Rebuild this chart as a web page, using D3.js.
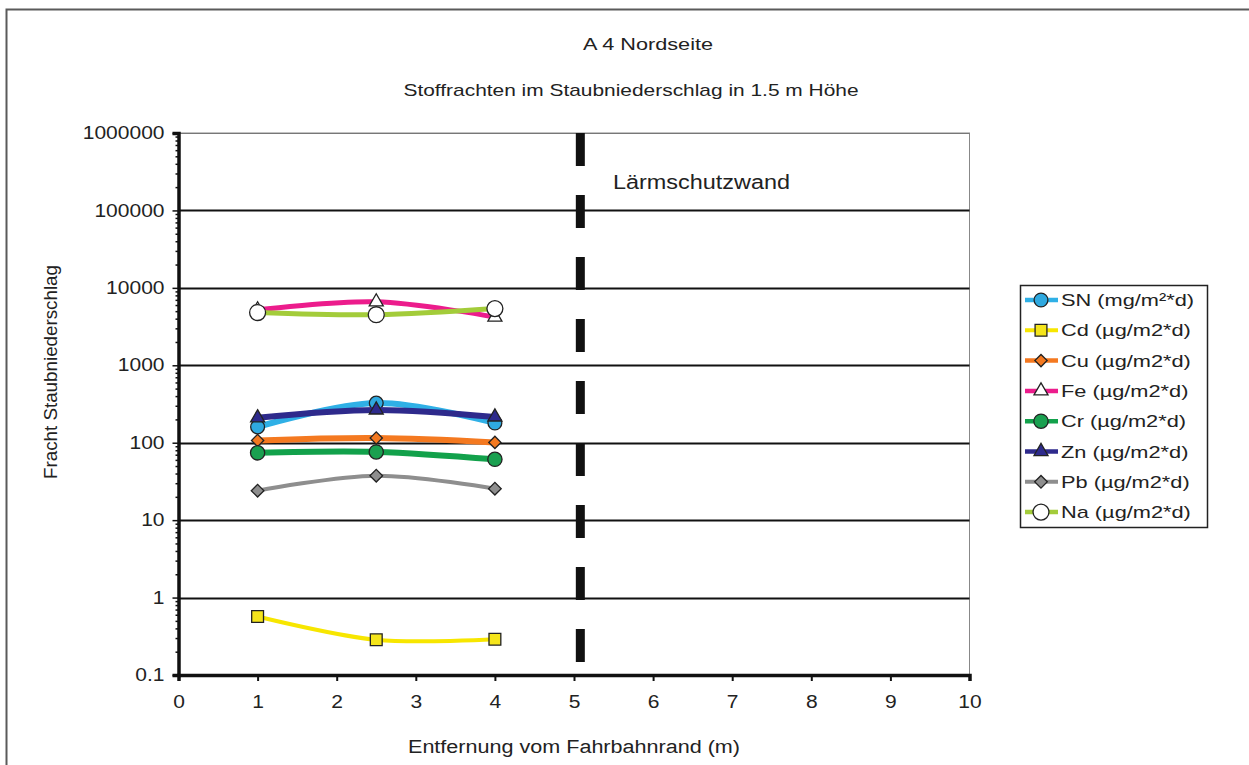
<!DOCTYPE html>
<html>
<head>
<meta charset="utf-8">
<script src="https://cdn.jsdelivr.net/npm/d3@7"></script>
<style>
  body { margin: 0; background: #fff; }
  svg { display: block; font-family: "Liberation Sans", Arial, sans-serif; }
</style>
</head>
<body>
<div id="chart"></div>
<script>
// distances from the road edge (m)
var distances = [1, 2.5, 4];

// series values
var seriesNames = ["SN (mg/m²*d)", "Cd (µg/m2*d)", "Cu (µg/m2*d)", "Fe (µg/m2*d)",
  "Cr (µg/m2*d)", "Zn (µg/m2*d)", "Pb (µg/m2*d)", "Na (µg/m2*d)"];
var snValues = [160, 325, 180];
var cdValues = [0.57, 0.285, 0.29];
var cuValues = [107, 115, 101];
var feValues = [5200, 6600, 4200];
var crValues = [74, 76, 61];
var znValues = [210, 265, 215];
var pbValues = [24, 37.5, 25.5];
var naValues = [4800, 4500, 5400];

var yTickValues = [0.1, 1, 10, 100, 1000, 10000, 100000, 1000000];
var xTickValues = [0, 1, 2, 3, 4, 5, 6, 7, 8, 9, 10];
var wallPosition = 5.08;

var width = 1249, height = 765;

var svg = d3.select("#chart").append("svg")
  .attr("width", width)
  .attr("height", height);

// the original text is a bit wider than Arial, stretch it horizontally
function stretchText(sel, factor) {
  sel.each(function () {
    var w = this.getComputedTextLength();
    d3.select(this)
      .attr("textLength", w * factor)
      .attr("lengthAdjust", "spacingAndGlyphs");
  });
}

// outer frame
svg.append("rect")
  .attr("x", 6.5).attr("y", 9.5)
  .attr("width", 1300).attr("height", 800)
  .attr("fill", "none")
  .attr("stroke", "#5a5a5a")
  .attr("stroke-width", 2);

var x = d3.scaleLinear().domain([0, 10]).range([178.5, 969.5]);
var y = d3.scaleLog().domain([0.1, 1000000]).range([675, 133]);

// plot border (thin)
svg.append("rect")
  .attr("x", x(0)).attr("y", y(1000000))
  .attr("width", x(10) - x(0)).attr("height", y(0.1) - y(1000000))
  .attr("fill", "none")
  .attr("stroke", "#888")
  .attr("stroke-width", 1);

// gridlines at each decade
svg.append("g")
  .selectAll("line")
  .data(yTickValues.slice(1))
  .enter()
  .append("line")
  .attr("x1", x(0)).attr("x2", x(10))
  .attr("y1", function (d) { return Math.round(y(d)) + 0.5; })
  .attr("y2", function (d) { return Math.round(y(d)) + 0.5; })
  .attr("stroke", function (d) { return d === 1000000 ? "#777" : "#111"; })
  .attr("stroke-width", function (d) { return d === 1000000 ? 1.2 : 1.8; });

// minor log ticks on the y axis
var minorTicks = [];
for (var e = -1; e < 6; e++) {
  for (var m = 2; m < 10; m++) {
    minorTicks.push(m * Math.pow(10, e));
  }
}

svg.append("g")
  .attr("transform", "translate(" + x(0) + ",0)")
  .call(d3.axisLeft(y).tickValues(minorTicks).tickSize(3).tickFormat(""))
  .call(function (g) {
    g.select(".domain").remove();
    g.selectAll("line").attr("stroke", "#111").attr("stroke-width", 1.5);
  });

// major y axis
svg.append("g")
  .attr("transform", "translate(" + x(0) + ",0)")
  .call(d3.axisLeft(y).tickValues(yTickValues).tickSize(6).tickPadding(8)
    .tickFormat(function (d) { return String(d); }))
  .call(function (g) {
    g.attr("font-family", null).attr("font-size", null);
    g.select(".domain").attr("stroke", "#111").attr("stroke-width", 3.5);
    g.selectAll("line").attr("stroke", "#111").attr("stroke-width", 1.5);
    g.selectAll("text").attr("font-size", 17.5).attr("fill", "#222");
    stretchText(g.selectAll("text"), 1.2);
  });

// x axis
svg.append("g")
  .attr("transform", "translate(0," + y(0.1) + ")")
  .call(d3.axisBottom(x).tickValues(xTickValues).tickSize(6).tickPadding(15)
    .tickFormat(d3.format("d")))
  .call(function (g) {
    g.attr("font-family", null).attr("font-size", null);
    g.select(".domain").attr("stroke", "#111").attr("stroke-width", 3.5);
    g.selectAll("line").attr("stroke", "#111").attr("stroke-width", 2);
    g.selectAll("text").attr("font-size", 17.5).attr("fill", "#222");
    stretchText(g.selectAll("text"), 1.2);
  });

// noise protection wall marker
svg.append("line")
  .attr("x1", x(wallPosition)).attr("x2", x(wallPosition))
  .attr("y1", y(1000000)).attr("y2", y(0.1))
  .attr("stroke", "#111")
  .attr("stroke-width", 9)
  .attr("stroke-dasharray", "33,29");

svg.append("text")
  .attr("x", 613).attr("y", 189)
  .attr("font-size", 20)
  .attr("fill", "#222")
  .attr("textLength", 177)
  .attr("lengthAdjust", "spacingAndGlyphs")
  .text("Lärmschutzwand");

// titles
svg.append("text")
  .attr("x", 648).attr("y", 50)
  .attr("text-anchor", "middle")
  .attr("font-size", 17).attr("fill", "#222")
  .attr("textLength", 130)
  .attr("lengthAdjust", "spacingAndGlyphs")
  .text("A 4 Nordseite");

svg.append("text")
  .attr("x", 631).attr("y", 96)
  .attr("text-anchor", "middle")
  .attr("font-size", 17).attr("fill", "#222")
  .attr("textLength", 455)
  .attr("lengthAdjust", "spacingAndGlyphs")
  .text("Stoffrachten im Staubniederschlag in 1.5 m Höhe");

svg.append("text")
  .attr("transform", "translate(57,372) rotate(-90)")
  .attr("text-anchor", "middle")
  .attr("font-size", 18).attr("fill", "#222")
  .attr("textLength", 214)
  .attr("lengthAdjust", "spacingAndGlyphs")
  .text("Fracht Staubniederschlag");

svg.append("text")
  .attr("x", 574).attr("y", 753)
  .attr("text-anchor", "middle")
  .attr("font-size", 18).attr("fill", "#222")
  .attr("textLength", 332)
  .attr("lengthAdjust", "spacingAndGlyphs")
  .text("Entfernung vom Fahrbahnrand (m)");

// series styling
var seriesValues = [snValues, cdValues, cuValues, feValues, crValues, znValues, pbValues, naValues];
var lineColors = ["#2fb0e6", "#f7e600", "#f47920", "#ec1c8c", "#12a14b", "#2e2a8c", "#8e8e8e", "#a3cc3a"];
var markerFills = ["#2fa9e0", "#f5e51b", "#f47920", "#ffffff", "#1aa050", "#2e2a8c", "#8e8e8e", "#ffffff"];
var markerTypes = ["circle", "square", "diamond", "triangle", "circle", "triangle", "diamond", "circle"];
var lineWidths = [6, 4, 6, 5, 6, 6, 4, 5];
var markerSizes = [150, 140, 75, 85, 160, 85, 80, 200];

var series = seriesNames.map(function (name, i) {
  return {
    name: name,
    values: distances.map(function (d, j) { return { x: d, y: seriesValues[i][j] }; }),
    color: lineColors[i],
    fill: markerFills[i],
    type: markerTypes[i],
    width: lineWidths[i],
    size: markerSizes[i]
  };
});

function symbolFor(type) {
  if (type === "circle") return d3.symbolCircle;
  if (type === "triangle") return d3.symbolTriangle;
  return d3.symbolSquare;
}

function markerPath(s) {
  return d3.symbol().type(symbolFor(s.type)).size(s.size)();
}

function markerTransform(s, px, py) {
  var t = "translate(" + px + "," + py + ")";
  if (s.type === "diamond") t += " rotate(45)";
  return t;
}

var line = d3.line()
  .x(function (d) { return x(d.x); })
  .y(function (d) { return y(d.y); })
  .curve(d3.curveCatmullRom.alpha(0.5));

var seriesGroups = svg.selectAll(".series")
  .data(series)
  .enter()
  .append("g")
  .attr("class", "series");

seriesGroups.append("path")
  .attr("d", function (d) { return line(d.values); })
  .attr("fill", "none")
  .attr("stroke", function (d) { return d.color; })
  .attr("stroke-width", function (d) { return d.width; })
  .attr("stroke-linecap", "round");

seriesGroups.each(function (s) {
  d3.select(this).selectAll(".marker")
    .data(s.values)
    .enter()
    .append("path")
    .attr("class", "marker")
    .attr("d", markerPath(s))
    .attr("transform", function (d) { return markerTransform(s, x(d.x), y(d.y)); })
    .attr("fill", s.fill)
    .attr("stroke", "#222")
    .attr("stroke-width", 1.3);
});

// legend
var legend = svg.append("g");

legend.append("rect")
  .attr("x", 1020.5).attr("y", 285.5)
  .attr("width", 187).attr("height", 242)
  .attr("fill", "#fff")
  .attr("stroke", "#222")
  .attr("stroke-width", 1.5);

var legendItems = legend.selectAll(".legend-item")
  .data(series)
  .enter()
  .append("g")
  .attr("class", "legend-item")
  .attr("transform", function (d, i) { return "translate(0," + (300 + i * 30.3) + ")"; });

legendItems.append("line")
  .attr("x1", 1025).attr("x2", 1058)
  .attr("y1", 0).attr("y2", 0)
  .attr("stroke", function (d) { return d.color; })
  .attr("stroke-width", function (d) { return Math.min(d.width, 4.5); });

legendItems.append("path")
  .attr("d", function (d) { return markerPath(d); })
  .attr("transform", function (d) { return markerTransform(d, 1041, 0); })
  .attr("fill", function (d) { return d.fill; })
  .attr("stroke", "#222")
  .attr("stroke-width", 1.3);

legendItems.append("text")
  .attr("x", 1061).attr("y", 6)
  .attr("font-size", 17)
  .attr("fill", "#222")
  .text(function (d) { return d.name; })
  .call(stretchText, 1.28);
</script>
</body>
</html>
